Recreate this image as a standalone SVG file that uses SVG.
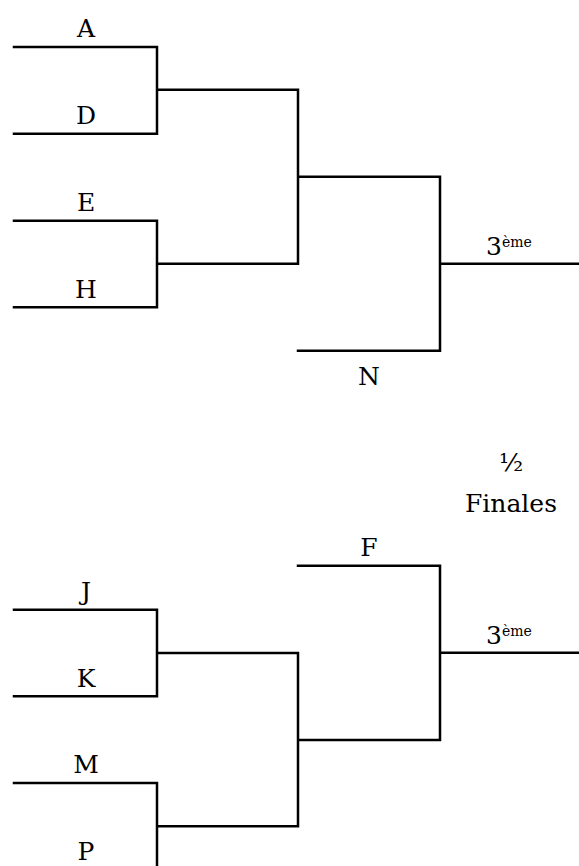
<svg xmlns="http://www.w3.org/2000/svg" width="579" height="866" viewBox="0 0 579 866">
<style>
.c{fill:none;stroke:#000;stroke-width:2.5;stroke-linecap:square}
text{font-family:"DejaVu Serif","Liberation Serif",serif;font-size:25px;fill:#000;text-anchor:middle}
.s{font-size:14px}
</style>
<rect width="579" height="866" fill="#fff"/>
<g id="connectors">
<path class="c" d="M14 47H157V133.7H14M157 89.7H298V263.7H157M14 220.7H157V307.3H14M298 176.7H440V350.7H298M440 263.7H579"/>
<path class="c" d="M14 609.7H157V696.3H14M157 653H298V826.3H157M14 783H157V880H14M298 565.7H440V740H298M440 652.8H579"/>
</g>
<g id="nA"><text x="86" y="37">A</text></g>
<g id="nD"><text x="86" y="123.5">D</text></g>
<g id="nE"><text x="86" y="211">E</text></g>
<g id="nH"><text x="86" y="297.5">H</text></g>
<g id="nN"><text x="369" y="385">N</text></g>
<g id="n3a"><text x="486" y="255" style="text-anchor:start">3<tspan class="s" dy="-8">ème</tspan></text></g>
<g id="title"><text x="511" y="471">½</text><text x="511" y="512">Finales</text></g>
<g id="nF"><text x="369" y="556">F</text></g>
<g id="n3b"><text x="486" y="644" style="text-anchor:start">3<tspan class="s" dy="-8">ème</tspan></text></g>
<g id="nJ"><text x="86" y="600">J</text></g>
<g id="nK"><text x="86" y="687">K</text></g>
<g id="nM"><text x="86" y="773">M</text></g>
<g id="nP"><text x="86" y="860">P</text></g>
</svg>
